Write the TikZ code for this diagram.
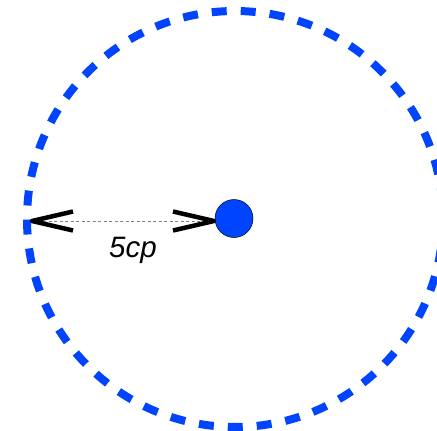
\documentclass[tikz,border=0pt]{standalone}
\usepackage{fontspec}
\setmainfont{Liberation Sans}
\definecolor{cblue}{RGB}{0,68,255}
\begin{document}
\begin{tikzpicture}[x=1pt,y=-1pt,
  ring/.style={draw=cblue,line width=8pt,dash pattern=on 15pt off 14pt},
  dot/.style={circle,fill=cblue,draw=black,line width=0.5pt,minimum size=38pt,inner sep=0pt},
  guide/.style={draw=gray,line width=0.8pt,dash pattern=on 3pt off 2.5pt},
  chev/.style={draw=black,line width=4.5pt,line cap=butt,line join=round}]
\useasboundingbox (0,0) rectangle (437,431);
\clip (0,0) rectangle (437,431);
\draw[ring] (235,219) circle (208);
\node[dot] (c) at (234,218.5) {};
\coordinate (L) at (32,221);
\coordinate (R) at (214,221);
\draw[guide] (L) -- (R);
\draw[chev] (73,211.5) -- (L) -- (73,230.5);
\draw[chev] (173,211.5) -- (R) -- (173,230.5);
\node[font=\itshape\fontsize{29.5}{31}\selectfont,anchor=base] (lab) at (133,257) {5cp};
\end{tikzpicture}
\end{document}
